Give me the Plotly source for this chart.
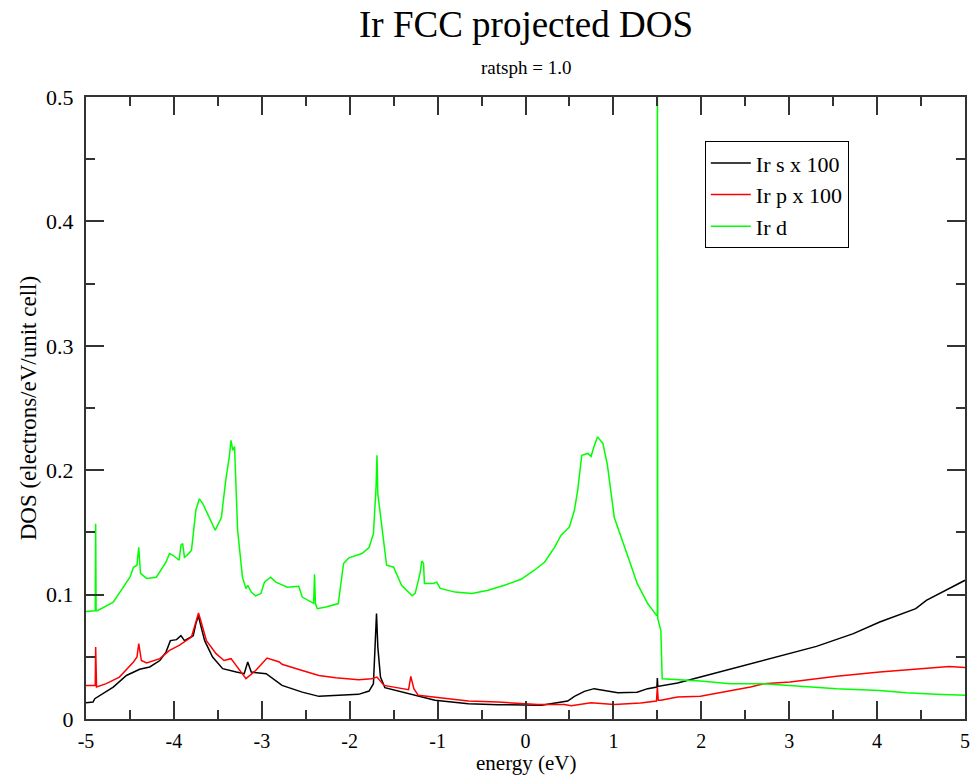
import plotly.graph_objects as go

# ---- Ir d (green) ----
d_x = [-5.0, -4.92, -4.895, -4.89, -4.885, -4.87, -4.69, -4.50, -4.46, -4.42, -4.40, -4.38, -4.31, -4.20,
       -4.09, -4.05, -4.01, -3.94, -3.92, -3.90, -3.88, -3.85, -3.80, -3.75, -3.71, -3.67, -3.53, -3.46,
       -3.41, -3.37, -3.35, -3.33, -3.31, -3.275, -3.22, -3.18, -3.16, -3.12, -3.07, -3.01, -2.97, -2.90,
       -2.84, -2.71, -2.58, -2.54, -2.41, -2.40, -2.39, -2.37, -2.27, -2.13, -2.07, -2.01, -1.86, -1.78,
       -1.73, -1.70, -1.69, -1.68, -1.63, -1.58, -1.50, -1.41, -1.29, -1.255, -1.20, -1.18, -1.16, -1.15,
       -1.05, -1.01, -0.97, -0.80, -0.61, -0.425, -0.24, -0.05, 0.10, 0.217, 0.33, 0.405, 0.50, 0.557,
       0.594, 0.64, 0.71, 0.745, 0.78, 0.82, 0.88, 0.93, 1.01, 1.085, 1.18, 1.27, 1.39, 1.49, 1.50, 1.50,
       1.505, 1.54, 1.555, 1.99, 2.33, 2.71, 3.01, 3.27, 3.54, 4.03, 4.33, 4.67, 5.0]
d_y = [0.0865, 0.087, 0.087, 0.157, 0.087, 0.087, 0.094, 0.114, 0.122, 0.1236, 0.138, 0.117, 0.113, 0.114,
       0.126, 0.133, 0.1316, 0.1276, 0.1397, 0.141, 0.130, 0.1316, 0.1356, 0.168, 0.177, 0.173, 0.1517, 0.162,
       0.192, 0.2107, 0.224, 0.216, 0.219, 0.1517, 0.114, 0.1048, 0.1075, 0.102, 0.099, 0.101, 0.110, 0.114,
       0.110, 0.106, 0.1067, 0.098, 0.093, 0.1163, 0.093, 0.0887, 0.090, 0.0928, 0.125, 0.1295, 0.133, 0.1378,
       0.149, 0.1866, 0.212, 0.181, 0.1517, 0.1236, 0.122, 0.1075, 0.099, 0.101, 0.117, 0.127, 0.125, 0.109,
       0.109, 0.110, 0.105, 0.102, 0.1008, 0.1035, 0.1075, 0.1123, 0.1196, 0.126, 0.138, 0.1477, 0.1544, 0.168,
       0.184, 0.212, 0.2135, 0.211, 0.219, 0.2268, 0.2215, 0.205, 0.162, 0.146, 0.1276, 0.109, 0.0928, 0.0833,
       0.0833, 0.62, 0.0807, 0.071, 0.0324, 0.0305, 0.0284, 0.0284, 0.027, 0.0257, 0.0244, 0.023, 0.0211,
       0.0198, 0.019]

# ---- Ir s x 100 (black) ----
s_x = [-5.0, -4.92, -4.90, -4.84, -4.69, -4.54, -4.43, -4.39, -4.275, -4.16, -4.09, -4.04, -3.97, -3.92,
       -3.88, -3.78, -3.75, -3.72, -3.70, -3.65, -3.56, -3.445, -3.29, -3.20, -3.16, -3.12, -3.03, -2.95,
       -2.77, -2.54, -2.35, -2.05, -1.90, -1.78, -1.73, -1.71, -1.695, -1.68, -1.65, -1.60, -1.41, -1.22,
       -1.03, -0.65, -0.31, 0.18, 0.33, 0.48, 0.557, 0.67, 0.78, 0.90, 1.05, 1.27, 1.39, 1.495, 1.50, 1.505,
       1.73, 1.99, 2.56, 3.01, 3.31, 3.73, 4.03, 4.44, 4.56, 5.0]
s_y = [0.0131, 0.0136, 0.0163, 0.019, 0.0257, 0.035, 0.0385, 0.040, 0.0418, 0.047, 0.0538, 0.063, 0.0638, 0.067,
       0.063, 0.067, 0.0767, 0.083, 0.0767, 0.063, 0.0498, 0.0405, 0.0377, 0.0364, 0.0458, 0.0377, 0.037, 0.0364,
       0.027, 0.0216, 0.0182, 0.019, 0.0198, 0.0225, 0.0284, 0.0606, 0.0847, 0.0578, 0.0337, 0.0252, 0.0216, 0.0182,
       0.015, 0.0123, 0.0115, 0.011, 0.0128, 0.0144, 0.0182, 0.0222, 0.0244, 0.023, 0.0212, 0.0216, 0.0244, 0.0257,
       0.033, 0.0262, 0.0289, 0.0337, 0.0445, 0.0525, 0.0584, 0.0686, 0.078, 0.0887, 0.0954, 0.1115]

# ---- Ir p x 100 (red) ----
p_x = [-5.0, -4.91, -4.895, -4.89, -4.88, -4.77, -4.62, -4.46, -4.42, -4.40, -4.37, -4.31, -4.16, -4.05,
       -3.94, -3.80, -3.75, -3.72, -3.69, -3.63, -3.52, -3.43, -3.35, -3.29, -3.18, -3.07, -2.94, -2.80,
       -2.77, -2.54, -2.35, -2.16, -1.90, -1.75, -1.69, -1.61, -1.48, -1.33, -1.305, -1.27, -1.22, -1.03,
       -0.65, -0.31, 0.14, 0.44, 0.52, 0.745, 1.01, 1.31, 1.49, 1.50, 1.51, 1.54, 1.73, 1.99, 2.56, 2.71,
       3.01, 3.54, 4.03, 4.82, 5.0]
p_y = [0.027, 0.027, 0.027, 0.0578, 0.0257, 0.0284, 0.0337, 0.0458, 0.0498, 0.0606, 0.047, 0.045, 0.0485, 0.0552,
       0.0592, 0.0659, 0.0793, 0.0852, 0.078, 0.063, 0.0525, 0.047, 0.0485, 0.043, 0.0324, 0.039, 0.049, 0.0458,
       0.044, 0.039, 0.035, 0.0332, 0.0316, 0.0324, 0.0337, 0.027, 0.0257, 0.0236, 0.0343, 0.0244, 0.019, 0.0176,
       0.0144, 0.0136, 0.0117, 0.0117, 0.0107, 0.0131, 0.0117, 0.0128, 0.0144, 0.0257, 0.015, 0.015, 0.0176, 0.0182,
       0.0257, 0.0284, 0.0297, 0.0343, 0.0377, 0.0423, 0.0413]

x_ticks = [-5, -4, -3, -2, -1, 0, 1, 2, 3, 4, 5]
y_ticks = [0, 0.1, 0.2, 0.3, 0.4, 0.5]
y_tick_text = ["0", "0.1", "0.2", "0.3", "0.4", "0.5"]

FONT = "Liberation Serif"

fig = go.Figure()
fig.add_trace(go.Scatter(x=s_x, y=s_y, mode="lines", name="Ir s x 100",
                         line=dict(color="#000000", width=1.5)))
fig.add_trace(go.Scatter(x=p_x, y=p_y, mode="lines", name="Ir p x 100",
                         line=dict(color="#ff0000", width=1.5)))
fig.add_trace(go.Scatter(x=d_x, y=d_y, mode="lines", name="Ir d",
                         line=dict(color="#00ff00", width=1.5)))

axis_common = dict(showgrid=False, zeroline=False, showline=True, linecolor="#333333", linewidth=2,
                   mirror="allticks", ticks="inside", tickcolor="#333333", tickwidth=2, ticklen=18)

fig.update_xaxes(range=[-5, 5], tickvals=x_ticks, ticktext=[str(v) for v in x_ticks],
                 tickfont=dict(family=FONT, size=20, color="#000000"),
                 minor=dict(dtick=0.5, ticks="inside", ticklen=9, tickwidth=2, tickcolor="#333333"),
                 ticklabelstandoff=3, **axis_common)
fig.update_yaxes(range=[0, 0.5], tickvals=y_ticks, ticktext=y_tick_text,
                 tickfont=dict(family=FONT, size=22, color="#000000"),
                 minor=dict(dtick=0.05, ticks="inside", ticklen=9, tickwidth=2, tickcolor="#333333"),
                 ticklabelstandoff=6, **axis_common)

fig.update_layout(
    width=980, height=777,
    margin=dict(l=86, r=10, t=97, b=58.4, pad=0),
    paper_bgcolor="white", plot_bgcolor="white",
    showlegend=True,
    legend=dict(x=0.704, y=0.929, xanchor="left", yanchor="top",
                bgcolor="white", bordercolor="#000000", borderwidth=1,
                font=dict(family=FONT, size=22, color="#000000"),
                tracegroupgap=0, itemwidth=40),
    annotations=[
        dict(text="Ir FCC projected DOS", x=0.5, y=1.116, xref="paper", yref="paper",
             xanchor="center", yanchor="middle", showarrow=False,
             font=dict(family=FONT, size=37, color="#000000")),
        dict(text="ratsph = 1.0", x=0.5, y=1.0467, xref="paper", yref="paper",
             xanchor="center", yanchor="middle", showarrow=False,
             font=dict(family=FONT, size=19, color="#000000")),
        dict(text="energy (eV)", x=0.5, y=-0.0705, xref="paper", yref="paper",
             xanchor="center", yanchor="middle", showarrow=False,
             font=dict(family=FONT, size=21, color="#000000")),
        dict(text="DOS (electrons/eV/unit cell)", x=-0.0656, y=0.5, xref="paper", yref="paper",
             xanchor="center", yanchor="middle", showarrow=False, textangle=-90,
             font=dict(family=FONT, size=23, color="#000000")),
    ],
)

fig.write_html("out.html")
